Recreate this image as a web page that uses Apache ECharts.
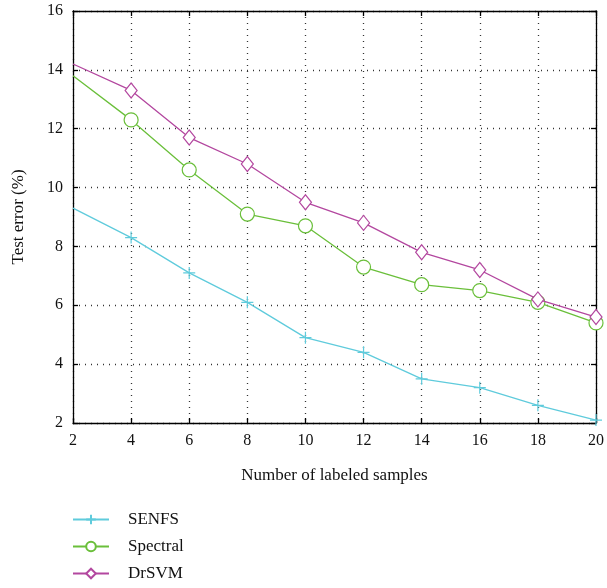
<!DOCTYPE html>
<html>
<head>
<meta charset="utf-8">
<script src="https://cdn.jsdelivr.net/npm/echarts@6/dist/echarts.min.js"></script>
<style>
  html, body { margin: 0; padding: 0; background: #fff; }
  #chart { width: 607px; height: 588px; }
</style>
</head>
<body>
<div id="chart"></div>
<script>
// data
const samples = [2, 4, 6, 8, 10, 12, 14, 16, 18, 20]
const senfs = [9.3, 8.3, 7.1, 6.1, 4.9, 4.4, 3.5, 3.2, 2.6, 2.1]
const spectral = [13.8, 12.3, 10.6, 9.1, 8.7, 7.3, 6.7, 6.5, 6.1, 5.4]
const drsvm = [14.2, 13.3, 11.7, 10.8, 9.5, 8.8, 7.8, 7.2, 6.2, 5.6]

const seriesNames = ['SENFS', 'Spectral', 'DrSVM']
const colors = ['#5fcbdc', '#6abf3a', '#b3479f']
const symbols = ['path://M0,5L10,5M5,0L5,10', 'path://M10,5A5,5,0,1,1,0,5A5,5,0,1,1,10,5Z', 'path://M5,0L10,8L5,16L0,8Z']
const symbolSizes = [12, 14, [12, 15]]

const font = '"Liberation Serif", "DejaVu Serif", serif'

// the reference draws no marker on the first point (x = 2)
const pair = (ys) => samples.map((x, i) => i === 0 ? { value: [x, ys[i]], symbol: 'none' } : [x, ys[i]])

const chart = echarts.init(document.getElementById('chart'))

const mkSeries = (name, ys, i) => ({
  name,
  type: 'line',
  data: pair(ys),
  symbol: symbols[i],
  symbolSize: symbolSizes[i],
  showAllSymbol: true,
  lineStyle: { color: colors[i], width: 1.3 },
  itemStyle: { color: i === 0 ? colors[i] : '#fff', borderColor: colors[i], borderWidth: 1.2 },
  emphasis: { disabled: true },
  animation: false,
  z: 3 + i
})

const baseX = {
  type: 'value', min: 2, max: 20, interval: 2,
  axisLine: { show: true, lineStyle: { color: '#000', width: 1.3 } },
  axisTick: { show: true, inside: true, length: 5, lineStyle: { color: '#000', width: 1.3 } }
}
const baseY = {
  type: 'value', min: 2, max: 16, interval: 2,
  axisLine: { show: true, lineStyle: { color: '#000', width: 1.3 } },
  axisTick: { show: true, inside: true, length: 5, lineStyle: { color: '#000', width: 1.3 } }
}

const option = {
  backgroundColor: '#fff',
  animation: false,
  grid: { left: 73, right: 9, top: 11, bottom: 165 },
  legend: {
    orient: 'vertical',
    left: 72,
    top: 511,
    padding: 0,
    itemWidth: 36,
    itemHeight: 12,
    itemGap: 10,
    data: seriesNames,
    textStyle: { fontFamily: font, fontSize: 17, color: '#111', padding: [0, 0, 0, 14] }
  },
  xAxis: [
    Object.assign({}, baseX, {
      position: 'bottom',
      name: 'Number of labeled samples',
      nameLocation: 'middle',
      nameGap: 44,
      nameTextStyle: { fontFamily: font, fontSize: 17, color: '#111' },
      axisLabel: { fontFamily: font, fontSize: 16, color: '#111', margin: 10 },
      splitLine: { show: true, lineStyle: { color: '#333', type: [1, 5], width: 1.3 } }
    }),
    Object.assign({}, baseX, {
      position: 'top',
      axisLabel: { show: false },
      splitLine: { show: false }
    })
  ],
  yAxis: [
    Object.assign({}, baseY, {
      position: 'left',
      name: 'Test error (%)',
      nameLocation: 'middle',
      nameGap: 46,
      nameTextStyle: { fontFamily: font, fontSize: 17, color: '#111' },
      axisLabel: { fontFamily: font, fontSize: 16, color: '#111', margin: 10 },
      splitLine: { show: true, lineStyle: { color: '#333', type: [1, 5], width: 1.3 } }
    }),
    Object.assign({}, baseY, {
      position: 'right',
      axisLabel: { show: false },
      splitLine: { show: false }
    })
  ],
  series: [
    mkSeries(seriesNames[0], senfs, 0),
    mkSeries(seriesNames[1], spectral, 1),
    mkSeries(seriesNames[2], drsvm, 2)
  ]
}

chart.setOption(option)
</script>
</body>
</html>
